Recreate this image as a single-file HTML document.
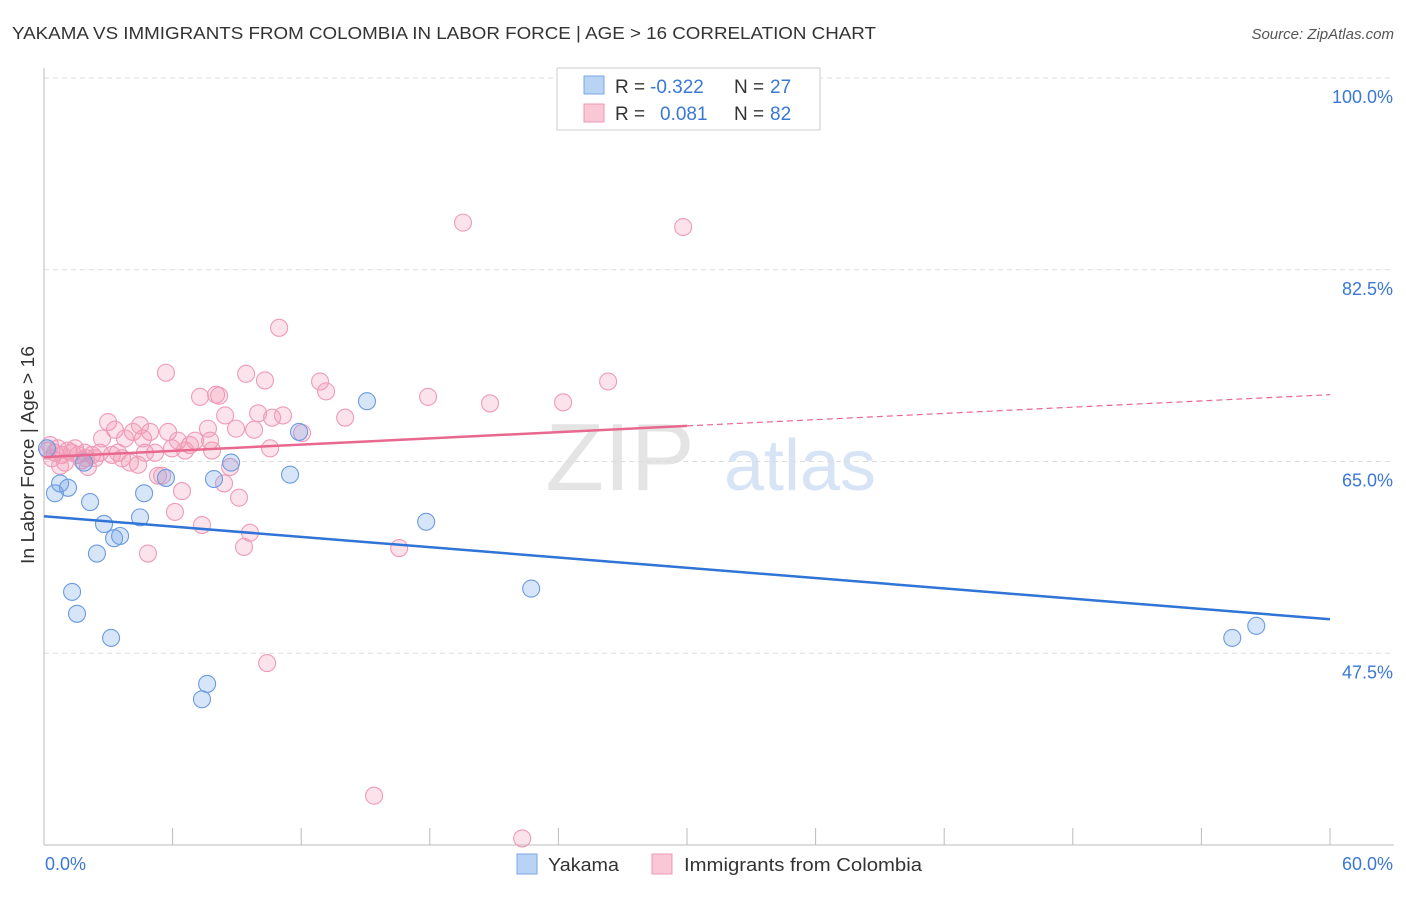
<!DOCTYPE html>
<html><head><meta charset="utf-8"><style>
body{margin:0;background:#fff;font-family:"Liberation Sans",sans-serif;}
svg text{font-family:"Liberation Sans",sans-serif;}
</style></head><body>
<svg id="chart" width="1406" height="892" xmlns="http://www.w3.org/2000/svg">
<text x="12" y="39" font-size="17.5" fill="#333" textLength="864" lengthAdjust="spacingAndGlyphs">YAKAMA VS IMMIGRANTS FROM COLOMBIA IN LABOR FORCE | AGE &gt; 16 CORRELATION CHART</text>
<text x="1394" y="39" font-size="15" fill="#555" font-style="italic" text-anchor="end">Source: ZipAtlas.com</text>
<text x="620" y="490" font-size="96" fill="#e4e4e4" font-family="Liberation Serif" text-anchor="middle">ZIP</text>
<text x="800" y="490" font-size="72" fill="#d6e4f5" text-anchor="middle">atlas</text>
<g id="grid"></g>
<g id="axes"></g>
<g id="pts"></g>
<g id="lines"></g>
<text transform="translate(34,455) rotate(-90)" font-size="18" fill="#333" text-anchor="middle" textLength="218" lengthAdjust="spacingAndGlyphs">In Labor Force | Age &gt; 16</text>
<g>
<rect x="557" y="68" width="263" height="62" fill="#fff" stroke="#ccc"/>
<rect x="584" y="76" width="20" height="18" fill="#b9d3f5" stroke="#7aa7e6"/>
<rect x="584" y="104" width="20" height="18" fill="#f9c7d6" stroke="#ec9ab5"/>
<text x="615" y="93" font-size="19" fill="#333">R = <tspan fill="#3a78d4" x="650">-0.322</tspan></text>
<text x="734" y="93" font-size="19" fill="#333">N = <tspan fill="#3a78d4" x="770">27</tspan></text>
<text x="615" y="120" font-size="19" fill="#333">R = <tspan fill="#3a78d4" x="660">0.081</tspan></text>
<text x="734" y="120" font-size="19" fill="#333">N = <tspan fill="#3a78d4" x="770">82</tspan></text>
</g>
<g>
<rect x="517" y="854" width="20" height="20" fill="#b9d3f5" stroke="#7aa7e6"/>
<text x="548" y="871" font-size="18" fill="#333" textLength="71" lengthAdjust="spacingAndGlyphs">Yakama</text>
<rect x="652" y="854" width="20" height="20" fill="#f9c7d6" stroke="#ec9ab5"/>
<text x="684" y="871" font-size="18" fill="#333" textLength="238" lengthAdjust="spacingAndGlyphs">Immigrants from Colombia</text>
</g>
</svg>
<script>
const yTicks=[100,82.5,65,47.5];
const yTickLabels=["100.0%","82.5%","65.0%","47.5%"];
const xTickLabels=["0.0%","60.0%"];
const blueX=[0.14,0.51,0.75,1.12,1.31,1.54,1.87,2.15,2.47,2.80,3.13,3.27,3.55,4.48,4.67,5.69,7.61,7.37,7.93,8.73,11.48,11.90,15.07,17.83,22.73,55.44,56.56];
const blueY=[66.2,62.1,63.0,62.6,53.1,51.1,64.9,61.3,56.6,59.3,48.9,58.0,58.2,59.9,62.1,63.5,44.7,43.3,63.4,64.9,63.8,67.7,70.5,59.5,53.4,48.9,50.0];
const pinkX=[0.19,0.28,0.37,0.51,0.65,0.84,0.98,1.12,1.31,1.45,1.59,1.77,1.91,2.05,2.24,2.38,2.61,2.71,2.99,3.17,3.31,3.45,3.64,3.78,4.01,4.15,4.39,4.48,4.62,4.71,4.95,5.18,5.32,5.51,5.69,5.79,5.97,6.11,6.25,6.44,6.58,6.81,7.05,7.28,7.37,7.65,7.75,7.84,8.03,8.17,8.40,8.45,8.68,8.96,9.10,9.33,9.43,9.61,9.80,9.99,10.31,10.41,10.55,10.64,10.97,11.15,12.04,12.88,13.16,14.05,15.40,16.57,17.92,19.55,20.81,22.31,24.22,26.32,29.82,4.85,1.96,0.75];
const pinkY=[66.0,66.5,65.3,65.8,66.2,65.6,64.9,66.0,65.8,66.2,65.6,65.1,65.8,64.5,65.6,65.3,65.8,67.1,68.6,65.6,67.9,65.8,65.3,67.1,64.9,67.7,64.7,68.3,67.1,65.8,67.7,65.8,63.7,63.7,73.1,67.7,66.2,60.4,66.9,62.3,66.0,66.5,66.9,70.9,59.2,68.0,66.9,66.0,71.1,71.0,63.0,69.2,64.5,68.0,61.7,57.2,73.0,58.5,67.9,69.4,72.4,46.6,66.2,69.0,77.2,69.2,67.6,72.3,71.4,69.0,34.5,57.1,70.9,86.8,70.3,30.6,70.4,72.3,86.4,56.6,65.3,64.6];
const blueTrend=[60.0,50.6];
const pinkTrend=[65.4,71.1];
const NS="http://www.w3.org/2000/svg";
const X0=44,X1=1330,Y0=845,Y1=78;
const sx=v=>X0+(v-0)/60*(X1-X0);
const sy=v=>Y0-(v-30)/70*(Y0-Y1);
function mk(tag,attrs,parent){const e=document.createElementNS(NS,tag);for(const k in attrs)e.setAttribute(k,attrs[k]);parent.appendChild(e);return e;}
const grid=document.getElementById('grid'),axes=document.getElementById('axes'),pts=document.getElementById('pts'),lines=document.getElementById('lines');
yTicks.forEach((t,i)=>{
 const l=mk('line',{x1:X0,x2:1394,y1:sy(t),y2:sy(t),stroke:'#ddd','stroke-dasharray':'5,4'},grid);
 
 
 const tx=mk('text',{x:1393,y:sy(t)+25,'font-size':18,fill:'#3a78d4','text-anchor':'end'},grid);
 tx.textContent=yTickLabels[i];
 
 
});
const ya=mk('line',{x1:X0,x2:X0,y1:68,y2:Y0,stroke:'#bbb'},axes);


const xa=mk('line',{x1:X0,x2:1394,y1:Y0,y2:Y0,stroke:'#bbb'},axes);


for(let i=0;i<=10;i++){
 const t=mk('line',{x1:sx(i*6),x2:sx(i*6),y1:828,y2:Y0,stroke:'#bbb'},axes);
 
 
}
[[0,'start',45],[60,'end',1393]].forEach((d,i)=>{
 const t=mk('text',{x:d[2],y:870,'font-size':18,fill:'#3a78d4','text-anchor':d[1]},axes);
 t.textContent=xTickLabels[i];
 
 
});
pinkX.forEach((x,i)=>{
 const c=mk('circle',{cx:sx(x),cy:sy(pinkY[i]),r:8.5,fill:'rgba(244,150,180,0.28)',stroke:'#ee9bb7','stroke-width':1.1},pts);
 
 
});
blueX.forEach((x,i)=>{
 const c=mk('circle',{cx:sx(x),cy:sy(blueY[i]),r:8.5,fill:'rgba(110,160,230,0.28)',stroke:'#6b9be0','stroke-width':1.1},pts);
 
 
});
const bl=mk('line',{x1:sx(0),y1:sy(blueTrend[0]),x2:sx(60),y2:sy(blueTrend[1]),stroke:'#2f74d6','stroke-width':2.5},lines);


const pAt=x=>pinkTrend[0]+(pinkTrend[1]-pinkTrend[0])*x/60;
const pl=mk('line',{x1:sx(0),y1:sy(pAt(0)),x2:sx(30),y2:sy(pAt(30)),stroke:'#e8688f','stroke-width':2.5},lines);


const pd=mk('line',{x1:sx(30),y1:sy(pAt(30)),x2:sx(60),y2:sy(pAt(60)),stroke:'#e8688f','stroke-width':1.2,'stroke-dasharray':'6,4'},lines);


</script>
</body></html>
